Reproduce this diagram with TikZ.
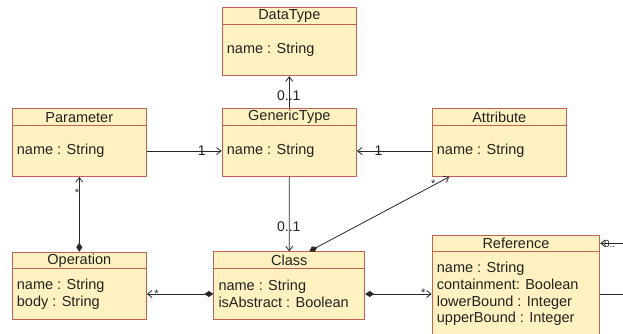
\documentclass[tikz,border=0pt]{standalone}
\usepackage{fontspec}
\setmainfont{Liberation Sans}
\usetikzlibrary{arrows.meta,calc}
\definecolor{boxfill}{RGB}{255,242,192}
\definecolor{boxline}{RGB}{196,96,86}
\definecolor{wire}{RGB}{40,40,40}
\definecolor{ink}{RGB}{34,34,34}
\begin{document}
\begin{tikzpicture}[x=1pt,y=-1pt,
  umlbox/.style={draw=boxline,fill=boxfill,line width=0.9pt,inner sep=0,
    anchor=north west,rectangle},
  hdr/.style={font=\fontsize{14.5}{16.7}\selectfont,inner sep=0,text=ink},
  attr/.style={font=\fontsize{14.5}{16.7}\selectfont,inner sep=0,text=ink,
    anchor=west,align=left},
  lbl/.style={font=\fontsize{14}{14}\selectfont,inner sep=0,text=ink},
  mult/.style={font=\fontsize{11}{11}\selectfont,inner sep=0,text=ink,anchor=base},
  wirestyle/.style={draw=wire,line width=0.8pt},
  assoc/.style={wirestyle,-{Straight Barb[length=4.5pt,width=7pt]}},
  compo/.style={wirestyle,{Diamond[length=9pt,width=6pt]}-{Straight Barb[length=4.5pt,width=7pt]}},
]
\useasboundingbox (0,0) rectangle (623,334);
\clip (0,0) rectangle (623,334);

% ---- classes ----
\node[umlbox,minimum width=134.3pt,minimum height=68pt] (dt) at (221.7,7.3) {};
\node[umlbox,minimum width=134.3pt,minimum height=67.5pt] (gt) at (221.7,108.3) {};
\node[umlbox,minimum width=134.3pt,minimum height=67.7pt] (param) at (11.7,108.3) {};
\node[umlbox,minimum width=134.3pt,minimum height=67.7pt] (attrib) at (431.7,108.3) {};
\node[umlbox,minimum width=134.3pt,minimum height=67.3pt] (op) at (11.7,251.7) {};
\node[umlbox,minimum width=151pt,minimum height=67.4pt] (cls) at (213.3,251.3) {};
\node[umlbox,minimum width=167.6pt,minimum height=110pt] (ref) at (431.7,234.7) {};

% header separators
\foreach \b in {dt,gt,param,attrib,op,cls}
  \draw[boxline,line width=0.9pt] ($(\b.north west)+(0,17)$) -- ($(\b.north east)+(0,17)$);
\draw[boxline,line width=0.9pt] ($(ref.north west)+(0,17)$) -- ($(ref.north east)+(0,17)$);

% class names
\node[hdr] (dtH) at ($(dt.north)+(0,8.8)$) {DataType};
\node[hdr] (gtH) at ($(gt.north)+(0,8.8)$) {GenericType};
\node[hdr] (paramH) at ($(param.north)+(0,8.8)$) {Parameter};
\node[hdr] (attribH) at ($(attrib.north)+(0,8.8)$) {Attribute};
\node[hdr] (opH) at ($(op.north)+(0,8.8)$) {Operation};
\node[hdr] (clsH) at ($(cls.north)+(0,8.8)$) {Class};
\node[hdr] (refH) at ($(ref.north)+(0,8.8)$) {Reference};

% attributes
\node[attr] (dtA) at ($(dt.north west)+(5,42.5)$) {name : String};
\node[attr] (gtA) at ($(gt.north west)+(5,42.7)$) {name : String};
\node[attr] (paramA) at ($(param.north west)+(5,42.7)$) {name : String};
\node[attr] (attribA) at ($(attrib.north west)+(5,42.7)$) {name : String};
\node[attr] (opA) at ($(op.north west)+(5,42.3)$) {name : String\\body : String};
\node[attr] (clsA) at ($(cls.north west)+(5,42.7)$) {name : String\\isAbstract : Boolean};
\node[attr] (refA) at ($(ref.north west)+(5,59.3)$) {name : String\\containment: Boolean\\lowerBound : Integer\\upperBound : Integer};

% ---- associations ----
\draw[assoc] (gt.north) -- (dt.south);
\node[lbl] (m1) at ($(gt.north)+(-0.5,-12.3)$) {0..1};

\draw[assoc] (param.east |- paramA) -- (gt.west |- paramA);
\node[lbl] (m2) at ($(gt.west |- paramA)+(-20,0)$) {1};

\draw[assoc] (attrib.west |- attribA) -- (gt.east |- attribA);
\node[lbl] (m3) at ($(gt.east |- attribA)+(21.7,0)$) {1};

\draw[assoc] (gt.south) -- (cls.north);
\node[lbl] (m4) at ($(cls.north)+(-0.5,-24.6)$) {0..1};

\draw[compo] ($(cls.north west)+(96,0)$) -- ($(attrib.south west)+(17.5,0)$);
\node[mult] (m5) at ($(attrib.south west)+(1.6,10.3)$) {*};

\draw[compo] (op.north) -- (param.south);
\node[mult] (m6) at ($(param.south)+(-2.4,19.3)$) {*};

\draw[compo] (cls.west |- clsA) -- (op.east |- clsA);
\node[mult] (m7) at ($(op.east |- clsA)+(9.7,3.5)$) {*};

\draw[compo] (cls.east |- clsA) -- (ref.west |- clsA);
\node[mult] (m8) at ($(ref.west |- clsA)+(-8.4,2.3)$) {*};

% self association of Reference, running out to the right
\coordinate (loopR) at (650,243.3);
\draw[assoc] (ref.east |- refA) -| (loopR) -- ($(ref.north east)+(0,8.6)$);
\node[font=\fontsize{10}{10}\selectfont,inner sep=0,text=ink,anchor=west] (m9)
  at ($(ref.north east)+(3.7,9.3)$) {0..};
\end{tikzpicture}
\end{document}
